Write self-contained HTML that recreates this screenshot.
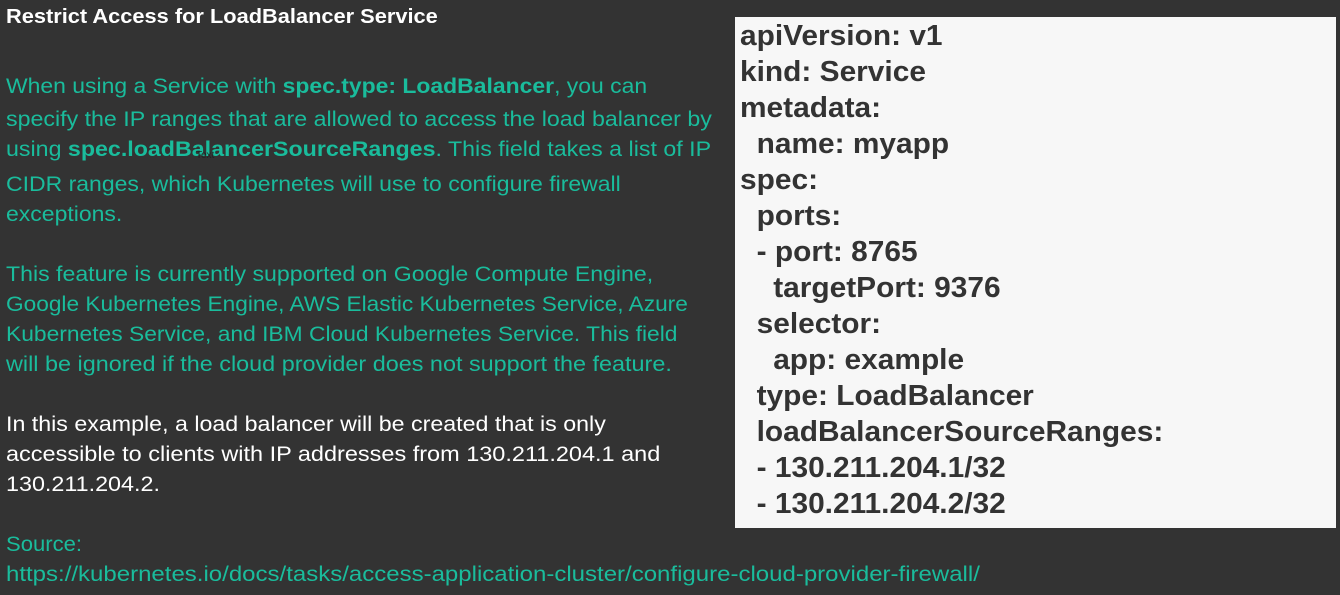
<!DOCTYPE html>
<html><head><style>
body{margin:0;width:1340px;height:595px;background:#333333;position:relative;overflow:hidden;font-family:"Liberation Sans",sans-serif}
.l{position:absolute;left:6px;white-space:nowrap;font-size:21px;line-height:30px;color:#1abc9c;transform-origin:0 50%;margin-top:2px}
.w{color:#ffffff}
.t{position:absolute;left:6px;top:6px;font-size:20px;font-weight:bold;color:#fff;white-space:nowrap;transform:scaleX(1.09);transform-origin:0 50%}
#box{position:absolute;left:735px;top:17px;width:601px;height:511px;background:#f7f7f7}
.c{position:absolute;left:5px;font-size:29px;font-weight:bold;color:#333;white-space:nowrap;line-height:36px;transform:scaleX(1.03);transform-origin:0 50%;margin-top:1px}
.sm{position:absolute;left:196px;top:150px;font-size:10px;color:#222}
</style></head><body>
<div class="t">Restrict Access for LoadBalancer Service</div>
<div class="l" style="top:70px;transform:scaleX(1.092)">When using a Service with <b>spec.type: LoadBalancer</b>, you can</div>
<div class="l" style="top:103px;transform:scaleX(1.104)">specify the IP ranges that are allowed to access the load balancer by</div>
<div class="l" style="top:133px;transform:scaleX(1.105)">using <b>spec.loadBalancerSourceRanges</b>. This field takes a list of IP</div>
<div class="l" style="top:168px;transform:scaleX(1.095)">CIDR ranges, which Kubernetes will use to configure firewall</div>
<div class="l" style="top:198px;transform:scaleX(1.095)">exceptions.</div>
<div class="sm">Text</div>
<div class="l" style="top:258px;transform:scaleX(1.1)">This feature is currently supported on Google Compute Engine,</div>
<div class="l" style="top:288px;transform:scaleX(1.079)">Google Kubernetes Engine, AWS Elastic Kubernetes Service, Azure</div>
<div class="l" style="top:318px;transform:scaleX(1.086)">Kubernetes Service, and IBM Cloud Kubernetes Service. This field</div>
<div class="l" style="top:348px;transform:scaleX(1.114)">will be ignored if the cloud provider does not support the feature.</div>
<div class="l w" style="top:408px;transform:scaleX(1.105)">In this example, a load balancer will be created that is only</div>
<div class="l w" style="top:438px;transform:scaleX(1.118)">accessible to clients with IP addresses from 130.211.204.1 and</div>
<div class="l w" style="top:468px;transform:scaleX(1.111)">130.211.204.2.</div>
<div class="l" style="top:528px;transform:scaleX(1.05)">Source:</div>
<div class="l" style="top:558px;transform:scaleX(1.143)">https://kubernetes.io/docs/tasks/access-application-cluster/configure-cloud-provider-firewall/</div>
<div id="box">
<div class="c" style="top:0px">apiVersion: v1</div>
<div class="c" style="top:36px">kind: Service</div>
<div class="c" style="top:72px">metadata:</div>
<div class="c" style="top:108px">&nbsp;&nbsp;name: myapp</div>
<div class="c" style="top:144px">spec:</div>
<div class="c" style="top:180px">&nbsp;&nbsp;ports:</div>
<div class="c" style="top:216px">&nbsp;&nbsp;- port: 8765</div>
<div class="c" style="top:252px">&nbsp;&nbsp;&nbsp;&nbsp;targetPort: 9376</div>
<div class="c" style="top:288px">&nbsp;&nbsp;selector:</div>
<div class="c" style="top:324px">&nbsp;&nbsp;&nbsp;&nbsp;app: example</div>
<div class="c" style="top:360px">&nbsp;&nbsp;type: LoadBalancer</div>
<div class="c" style="top:396px">&nbsp;&nbsp;loadBalancerSourceRanges:</div>
<div class="c" style="top:432px">&nbsp;&nbsp;- 130.211.204.1/32</div>
<div class="c" style="top:468px">&nbsp;&nbsp;- 130.211.204.2/32</div>
</div>
</body></html>
